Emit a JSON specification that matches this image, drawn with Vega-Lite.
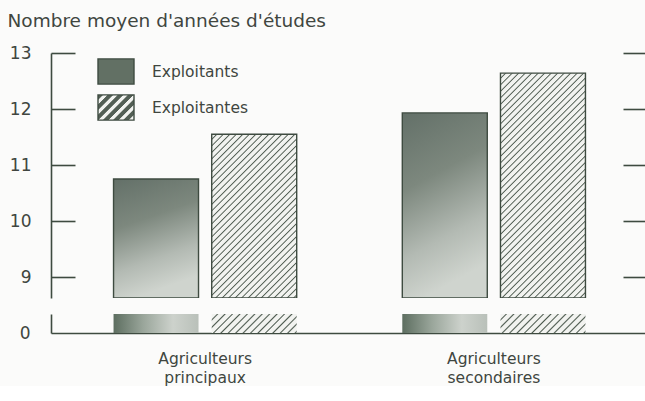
{
"$schema": "https://vega.github.io/schema/vega-lite/v6.json",
"background": "#fbfbfa",
"padding": {"left": 7, "top": 11, "right": 0, "bottom": 0},
"data": {"values": [
 {"group": "Agriculteurs principaux", "series": "Exploitants", "years": 10.75},
 {"group": "Agriculteurs principaux", "series": "Exploitantes", "years": 11.55},
 {"group": "Agriculteurs secondaires", "series": "Exploitants", "years": 11.93},
 {"group": "Agriculteurs secondaires", "series": "Exploitantes", "years": 12.64}
]},
"config": {
 "font": "DejaVu Sans",
 "view": {"stroke": null},
 "axis": {"grid": false, "domainColor": "#3e4b40", "domainWidth": 1.6, "tickColor": "#3e4b40", "tickWidth": 1.6, "labelColor": "#40463f", "labelFont": "DejaVu Sans", "titleFont": "DejaVu Sans", "titleColor": "#40463f", "titleFontWeight": "normal"},
 "legend": {"labelFont": "DejaVu Sans", "labelColor": "#40463f", "title": null, "orient": "none", "symbolType": "M-1,-0.7H1V0.7H-1Z", "symbolSize": 1296, "symbolStrokeWidth": 1.4, "labelFontSize": 15.5, "labelOffset": 17, "rowPadding": 0, "padding": 0}
},
"spacing": 16,
"bounds": "flush",
"resolve": {"legend": {"stroke": "independent"}},
"vconcat": [
 {
  "width": 597, "height": 245,
  "resolve": {"axis": {"y": "independent"}, "scale": {"stroke": "independent"}, "legend": {"stroke": "independent"}},
  "layer": [
   {
    "transform": [{"filter": "datum.series === 'Exploitants'"}],
    "mark": {"type": "bar", "strokeWidth": 1.4, "clip": true},
    "encoding": {
     "x": {"field": "group", "type": "nominal", "sort": null, "scale": {"paddingInner": 0.3657, "paddingOuter": 0.2166}, "axis": {"orient": "top", "labels": false, "ticks": false, "title": null, "domain": true}},
     "xOffset": {"field": "series", "type": "nominal", "sort": ["Exploitants", "Exploitantes"], "scale": {"domain": ["Exploitants", "Exploitantes"], "paddingInner": 0.1344, "paddingOuter": 0}},
     "y": {"field": "years", "type": "quantitative", "scale": {"domain": [8.625, 13], "zero": false, "nice": false, "clamp": true}, "axis": {"orient": "left", "values": [9, 10, 11, 12, 13], "tickSize": -24, "labelPadding": 44, "labelFontSize": 17, "title": "Nombre moyen d'années d'études", "titleAngle": 0, "titleAlign": "left", "titleBaseline": "alphabetic", "titleX": -44, "titleY": -27, "titleFontSize": 18.5}},
     "stroke": {"field": "series", "type": "nominal", "scale": {"range": ["#3e4b40"]}, "legend": {"legendX": 46, "legendY": -0.5}},
     "fill": {
      "condition": {"test": "isValid(datum.years)", "value": {"gradient": "linear", "x1": 0, "y1": 0, "x2": 0.25, "y2": 1, "stops": [
         {"offset": 0, "color": "#637068"}, {"offset": 0.4, "color": "#7d887e"}, {"offset": 0.75, "color": "#b3bab3"}, {"offset": 1, "color": "#cfd4ce"}]}},
      "value": "#627064"
     }
    }
   },
   {
    "transform": [{"filter": "datum.series === 'Exploitantes'"}],
    "mark": {"type": "bar", "strokeWidth": 1.4, "clip": true},
    "encoding": {
     "x": {"field": "group", "type": "nominal", "sort": null, "axis": null},
     "xOffset": {"field": "series", "type": "nominal", "sort": ["Exploitants", "Exploitantes"]},
     "y": {"field": "years", "type": "quantitative", "axis": null},
     "stroke": {"field": "series", "type": "nominal", "scale": {"range": ["#3e4b40"]}, "legend": {"legendX": 46, "legendY": 35.5}},
     "fill": {
      "condition": [
       {"test": "datum.group === 'Agriculteurs principaux'", "value": {"gradient": "linear", "x1": 0, "y1": 0, "x2": 0.7788, "y2": 1.5007, "stops": [
{"offset":0,"color":"#f2f3f0"},{"offset":0.0125,"color":"#f2f3f0"},{"offset":0.0167,"color":"#4b584d"},
{"offset":0.0208,"color":"#f2f3f0"},{"offset":0.0333,"color":"#f2f3f0"},{"offset":0.0375,"color":"#4b584d"},
{"offset":0.0417,"color":"#f2f3f0"},{"offset":0.0542,"color":"#f2f3f0"},{"offset":0.0583,"color":"#4b584d"},
{"offset":0.0625,"color":"#f2f3f0"},{"offset":0.075,"color":"#f2f3f0"},{"offset":0.0792,"color":"#4b584d"},
{"offset":0.0833,"color":"#f2f3f0"},{"offset":0.0958,"color":"#f2f3f0"},{"offset":0.1,"color":"#4b584d"},
{"offset":0.1042,"color":"#f2f3f0"},{"offset":0.1167,"color":"#f2f3f0"},{"offset":0.1208,"color":"#4b584d"},
{"offset":0.125,"color":"#f2f3f0"},{"offset":0.1375,"color":"#f2f3f0"},{"offset":0.1417,"color":"#4b584d"},
{"offset":0.1458,"color":"#f2f3f0"},{"offset":0.1583,"color":"#f2f3f0"},{"offset":0.1625,"color":"#4b584d"},
{"offset":0.1667,"color":"#f2f3f0"},{"offset":0.1792,"color":"#f2f3f0"},{"offset":0.1833,"color":"#4b584d"},
{"offset":0.1875,"color":"#f2f3f0"},{"offset":0.2,"color":"#f2f3f0"},{"offset":0.2042,"color":"#4b584d"},
{"offset":0.2083,"color":"#f2f3f0"},{"offset":0.2208,"color":"#f2f3f0"},{"offset":0.225,"color":"#4b584d"},
{"offset":0.2292,"color":"#f2f3f0"},{"offset":0.2417,"color":"#f2f3f0"},{"offset":0.2458,"color":"#4b584d"},
{"offset":0.25,"color":"#f2f3f0"},{"offset":0.2625,"color":"#f2f3f0"},{"offset":0.2667,"color":"#4b584d"},
{"offset":0.2708,"color":"#f2f3f0"},{"offset":0.2833,"color":"#f2f3f0"},{"offset":0.2875,"color":"#4b584d"},
{"offset":0.2917,"color":"#f2f3f0"},{"offset":0.3042,"color":"#f2f3f0"},{"offset":0.3083,"color":"#4b584d"},
{"offset":0.3125,"color":"#f2f3f0"},{"offset":0.325,"color":"#f2f3f0"},{"offset":0.3292,"color":"#4b584d"},
{"offset":0.3333,"color":"#f2f3f0"},{"offset":0.3458,"color":"#f2f3f0"},{"offset":0.35,"color":"#4b584d"},
{"offset":0.3542,"color":"#f2f3f0"},{"offset":0.3667,"color":"#f2f3f0"},{"offset":0.3708,"color":"#4b584d"},
{"offset":0.375,"color":"#f2f3f0"},{"offset":0.3875,"color":"#f2f3f0"},{"offset":0.3917,"color":"#4b584d"},
{"offset":0.3958,"color":"#f2f3f0"},{"offset":0.4083,"color":"#f2f3f0"},{"offset":0.4125,"color":"#4b584d"},
{"offset":0.4167,"color":"#f2f3f0"},{"offset":0.4292,"color":"#f2f3f0"},{"offset":0.4333,"color":"#4b584d"},
{"offset":0.4375,"color":"#f2f3f0"},{"offset":0.45,"color":"#f2f3f0"},{"offset":0.4542,"color":"#4b584d"},
{"offset":0.4583,"color":"#f2f3f0"},{"offset":0.4708,"color":"#f2f3f0"},{"offset":0.475,"color":"#4b584d"},
{"offset":0.4792,"color":"#f2f3f0"},{"offset":0.4917,"color":"#f2f3f0"},{"offset":0.4958,"color":"#4b584d"},
{"offset":0.5,"color":"#f2f3f0"},{"offset":0.5125,"color":"#f2f3f0"},{"offset":0.5167,"color":"#4b584d"},
{"offset":0.5208,"color":"#f2f3f0"},{"offset":0.5333,"color":"#f2f3f0"},{"offset":0.5375,"color":"#4b584d"},
{"offset":0.5417,"color":"#f2f3f0"},{"offset":0.5542,"color":"#f2f3f0"},{"offset":0.5583,"color":"#4b584d"},
{"offset":0.5625,"color":"#f2f3f0"},{"offset":0.575,"color":"#f2f3f0"},{"offset":0.5792,"color":"#4b584d"},
{"offset":0.5833,"color":"#f2f3f0"},{"offset":0.5958,"color":"#f2f3f0"},{"offset":0.6,"color":"#4b584d"},
{"offset":0.6042,"color":"#f2f3f0"},{"offset":0.6167,"color":"#f2f3f0"},{"offset":0.6208,"color":"#4b584d"},
{"offset":0.625,"color":"#f2f3f0"},{"offset":0.6375,"color":"#f2f3f0"},{"offset":0.6417,"color":"#4b584d"},
{"offset":0.6458,"color":"#f2f3f0"},{"offset":0.6583,"color":"#f2f3f0"},{"offset":0.6625,"color":"#4b584d"},
{"offset":0.6667,"color":"#f2f3f0"},{"offset":0.6792,"color":"#f2f3f0"},{"offset":0.6833,"color":"#4b584d"},
{"offset":0.6875,"color":"#f2f3f0"},{"offset":0.7,"color":"#f2f3f0"},{"offset":0.7042,"color":"#4b584d"},
{"offset":0.7083,"color":"#f2f3f0"},{"offset":0.7208,"color":"#f2f3f0"},{"offset":0.725,"color":"#4b584d"},
{"offset":0.7292,"color":"#f2f3f0"},{"offset":0.7417,"color":"#f2f3f0"},{"offset":0.7458,"color":"#4b584d"},
{"offset":0.75,"color":"#f2f3f0"},{"offset":0.7625,"color":"#f2f3f0"},{"offset":0.7667,"color":"#4b584d"},
{"offset":0.7708,"color":"#f2f3f0"},{"offset":0.7833,"color":"#f2f3f0"},{"offset":0.7875,"color":"#4b584d"},
{"offset":0.7917,"color":"#f2f3f0"},{"offset":0.8042,"color":"#f2f3f0"},{"offset":0.8083,"color":"#4b584d"},
{"offset":0.8125,"color":"#f2f3f0"},{"offset":0.825,"color":"#f2f3f0"},{"offset":0.8292,"color":"#4b584d"},
{"offset":0.8333,"color":"#f2f3f0"},{"offset":0.8458,"color":"#f2f3f0"},{"offset":0.85,"color":"#4b584d"},
{"offset":0.8542,"color":"#f2f3f0"},{"offset":0.8667,"color":"#f2f3f0"},{"offset":0.8708,"color":"#4b584d"},
{"offset":0.875,"color":"#f2f3f0"},{"offset":0.8875,"color":"#f2f3f0"},{"offset":0.8917,"color":"#4b584d"},
{"offset":0.8958,"color":"#f2f3f0"},{"offset":0.9083,"color":"#f2f3f0"},{"offset":0.9125,"color":"#4b584d"},
{"offset":0.9167,"color":"#f2f3f0"},{"offset":0.9292,"color":"#f2f3f0"},{"offset":0.9333,"color":"#4b584d"},
{"offset":0.9375,"color":"#f2f3f0"},{"offset":0.95,"color":"#f2f3f0"},{"offset":0.9542,"color":"#4b584d"},
{"offset":0.9583,"color":"#f2f3f0"},{"offset":0.9708,"color":"#f2f3f0"},{"offset":0.975,"color":"#4b584d"},
{"offset":0.9792,"color":"#f2f3f0"},{"offset":0.9917,"color":"#f2f3f0"},{"offset":0.9958,"color":"#4b584d"},
{"offset":1,"color":"#f2f3f0"}]}},
       {"test": "isValid(datum.years)", "value": {"gradient": "linear", "x1": 0, "y1": 0, "x2": 0.4592, "y2": 1.2143, "stops": [
{"offset":0,"color":"#f2f3f0"},{"offset":0.0125,"color":"#f2f3f0"},{"offset":0.0167,"color":"#4b584d"},
{"offset":0.0208,"color":"#f2f3f0"},{"offset":0.0333,"color":"#f2f3f0"},{"offset":0.0375,"color":"#4b584d"},
{"offset":0.0417,"color":"#f2f3f0"},{"offset":0.0542,"color":"#f2f3f0"},{"offset":0.0583,"color":"#4b584d"},
{"offset":0.0625,"color":"#f2f3f0"},{"offset":0.075,"color":"#f2f3f0"},{"offset":0.0792,"color":"#4b584d"},
{"offset":0.0833,"color":"#f2f3f0"},{"offset":0.0958,"color":"#f2f3f0"},{"offset":0.1,"color":"#4b584d"},
{"offset":0.1042,"color":"#f2f3f0"},{"offset":0.1167,"color":"#f2f3f0"},{"offset":0.1208,"color":"#4b584d"},
{"offset":0.125,"color":"#f2f3f0"},{"offset":0.1375,"color":"#f2f3f0"},{"offset":0.1417,"color":"#4b584d"},
{"offset":0.1458,"color":"#f2f3f0"},{"offset":0.1583,"color":"#f2f3f0"},{"offset":0.1625,"color":"#4b584d"},
{"offset":0.1667,"color":"#f2f3f0"},{"offset":0.1792,"color":"#f2f3f0"},{"offset":0.1833,"color":"#4b584d"},
{"offset":0.1875,"color":"#f2f3f0"},{"offset":0.2,"color":"#f2f3f0"},{"offset":0.2042,"color":"#4b584d"},
{"offset":0.2083,"color":"#f2f3f0"},{"offset":0.2208,"color":"#f2f3f0"},{"offset":0.225,"color":"#4b584d"},
{"offset":0.2292,"color":"#f2f3f0"},{"offset":0.2417,"color":"#f2f3f0"},{"offset":0.2458,"color":"#4b584d"},
{"offset":0.25,"color":"#f2f3f0"},{"offset":0.2625,"color":"#f2f3f0"},{"offset":0.2667,"color":"#4b584d"},
{"offset":0.2708,"color":"#f2f3f0"},{"offset":0.2833,"color":"#f2f3f0"},{"offset":0.2875,"color":"#4b584d"},
{"offset":0.2917,"color":"#f2f3f0"},{"offset":0.3042,"color":"#f2f3f0"},{"offset":0.3083,"color":"#4b584d"},
{"offset":0.3125,"color":"#f2f3f0"},{"offset":0.325,"color":"#f2f3f0"},{"offset":0.3292,"color":"#4b584d"},
{"offset":0.3333,"color":"#f2f3f0"},{"offset":0.3458,"color":"#f2f3f0"},{"offset":0.35,"color":"#4b584d"},
{"offset":0.3542,"color":"#f2f3f0"},{"offset":0.3667,"color":"#f2f3f0"},{"offset":0.3708,"color":"#4b584d"},
{"offset":0.375,"color":"#f2f3f0"},{"offset":0.3875,"color":"#f2f3f0"},{"offset":0.3917,"color":"#4b584d"},
{"offset":0.3958,"color":"#f2f3f0"},{"offset":0.4083,"color":"#f2f3f0"},{"offset":0.4125,"color":"#4b584d"},
{"offset":0.4167,"color":"#f2f3f0"},{"offset":0.4292,"color":"#f2f3f0"},{"offset":0.4333,"color":"#4b584d"},
{"offset":0.4375,"color":"#f2f3f0"},{"offset":0.45,"color":"#f2f3f0"},{"offset":0.4542,"color":"#4b584d"},
{"offset":0.4583,"color":"#f2f3f0"},{"offset":0.4708,"color":"#f2f3f0"},{"offset":0.475,"color":"#4b584d"},
{"offset":0.4792,"color":"#f2f3f0"},{"offset":0.4917,"color":"#f2f3f0"},{"offset":0.4958,"color":"#4b584d"},
{"offset":0.5,"color":"#f2f3f0"},{"offset":0.5125,"color":"#f2f3f0"},{"offset":0.5167,"color":"#4b584d"},
{"offset":0.5208,"color":"#f2f3f0"},{"offset":0.5333,"color":"#f2f3f0"},{"offset":0.5375,"color":"#4b584d"},
{"offset":0.5417,"color":"#f2f3f0"},{"offset":0.5542,"color":"#f2f3f0"},{"offset":0.5583,"color":"#4b584d"},
{"offset":0.5625,"color":"#f2f3f0"},{"offset":0.575,"color":"#f2f3f0"},{"offset":0.5792,"color":"#4b584d"},
{"offset":0.5833,"color":"#f2f3f0"},{"offset":0.5958,"color":"#f2f3f0"},{"offset":0.6,"color":"#4b584d"},
{"offset":0.6042,"color":"#f2f3f0"},{"offset":0.6167,"color":"#f2f3f0"},{"offset":0.6208,"color":"#4b584d"},
{"offset":0.625,"color":"#f2f3f0"},{"offset":0.6375,"color":"#f2f3f0"},{"offset":0.6417,"color":"#4b584d"},
{"offset":0.6458,"color":"#f2f3f0"},{"offset":0.6583,"color":"#f2f3f0"},{"offset":0.6625,"color":"#4b584d"},
{"offset":0.6667,"color":"#f2f3f0"},{"offset":0.6792,"color":"#f2f3f0"},{"offset":0.6833,"color":"#4b584d"},
{"offset":0.6875,"color":"#f2f3f0"},{"offset":0.7,"color":"#f2f3f0"},{"offset":0.7042,"color":"#4b584d"},
{"offset":0.7083,"color":"#f2f3f0"},{"offset":0.7208,"color":"#f2f3f0"},{"offset":0.725,"color":"#4b584d"},
{"offset":0.7292,"color":"#f2f3f0"},{"offset":0.7417,"color":"#f2f3f0"},{"offset":0.7458,"color":"#4b584d"},
{"offset":0.75,"color":"#f2f3f0"},{"offset":0.7625,"color":"#f2f3f0"},{"offset":0.7667,"color":"#4b584d"},
{"offset":0.7708,"color":"#f2f3f0"},{"offset":0.7833,"color":"#f2f3f0"},{"offset":0.7875,"color":"#4b584d"},
{"offset":0.7917,"color":"#f2f3f0"},{"offset":0.8042,"color":"#f2f3f0"},{"offset":0.8083,"color":"#4b584d"},
{"offset":0.8125,"color":"#f2f3f0"},{"offset":0.825,"color":"#f2f3f0"},{"offset":0.8292,"color":"#4b584d"},
{"offset":0.8333,"color":"#f2f3f0"},{"offset":0.8458,"color":"#f2f3f0"},{"offset":0.85,"color":"#4b584d"},
{"offset":0.8542,"color":"#f2f3f0"},{"offset":0.8667,"color":"#f2f3f0"},{"offset":0.8708,"color":"#4b584d"},
{"offset":0.875,"color":"#f2f3f0"},{"offset":0.8875,"color":"#f2f3f0"},{"offset":0.8917,"color":"#4b584d"},
{"offset":0.8958,"color":"#f2f3f0"},{"offset":0.9083,"color":"#f2f3f0"},{"offset":0.9125,"color":"#4b584d"},
{"offset":0.9167,"color":"#f2f3f0"},{"offset":0.9292,"color":"#f2f3f0"},{"offset":0.9333,"color":"#4b584d"},
{"offset":0.9375,"color":"#f2f3f0"},{"offset":0.95,"color":"#f2f3f0"},{"offset":0.9542,"color":"#4b584d"},
{"offset":0.9583,"color":"#f2f3f0"},{"offset":0.9708,"color":"#f2f3f0"},{"offset":0.975,"color":"#4b584d"},
{"offset":0.9792,"color":"#f2f3f0"},{"offset":0.9917,"color":"#f2f3f0"},{"offset":0.9958,"color":"#4b584d"},
{"offset":1,"color":"#f2f3f0"}]}}
      ],
      "value": {"gradient": "linear", "x1": 0, "y1": 0, "x2": 1.137, "y2": 0.796, "stops": [
        {"offset": 0, "color": "#535f55"}, {"offset": 0.075, "color": "#535f55"}, {"offset": 0.0917, "color": "#f2f3f0"}, {"offset": 0.15, "color": "#f2f3f0"},
        {"offset": 0.1667, "color": "#535f55"}, {"offset": 0.2417, "color": "#535f55"}, {"offset": 0.2583, "color": "#f2f3f0"}, {"offset": 0.3167, "color": "#f2f3f0"},
        {"offset": 0.3333, "color": "#535f55"}, {"offset": 0.4083, "color": "#535f55"}, {"offset": 0.425, "color": "#f2f3f0"}, {"offset": 0.4833, "color": "#f2f3f0"},
        {"offset": 0.5, "color": "#535f55"}, {"offset": 0.575, "color": "#535f55"}, {"offset": 0.5917, "color": "#f2f3f0"}, {"offset": 0.65, "color": "#f2f3f0"},
        {"offset": 0.6667, "color": "#535f55"}, {"offset": 0.7417, "color": "#535f55"}, {"offset": 0.7583, "color": "#f2f3f0"}, {"offset": 0.8167, "color": "#f2f3f0"},
        {"offset": 0.8333, "color": "#535f55"}, {"offset": 0.9083, "color": "#535f55"}, {"offset": 0.925, "color": "#f2f3f0"}, {"offset": 0.9833, "color": "#f2f3f0"},
        {"offset": 1, "color": "#535f55"}]}
     }
    }
   },
   {
    "mark": {"type": "bar", "opacity": 0},
    "encoding": {
     "x": {"field": "group", "type": "nominal", "sort": null, "axis": null},
     "xOffset": {"field": "series", "type": "nominal", "sort": ["Exploitants", "Exploitantes"]},
     "y": {"field": "years", "type": "quantitative", "axis": {"orient": "right", "values": [9, 10, 11, 12, 13], "tickSize": -25, "labels": false, "title": null}}
    }
   }
  ]
 },
 {
  "width": 597, "height": 19,
  "mark": {"type": "bar", "clip": true},
  "encoding": {
   "x": {"field": "group", "type": "nominal", "sort": null, "scale": {"paddingInner": 0.3657, "paddingOuter": 0.2166}, "axis": {"orient": "bottom", "labelExpr": "split(datum.label, ' ')", "labelFontSize": 15.5, "labelLineHeight": 19, "labelPadding": 18, "labelAngle": 0, "ticks": false, "title": null}},
   "xOffset": {"field": "series", "type": "nominal", "sort": ["Exploitants", "Exploitantes"], "scale": {"paddingInner": 0.1344, "paddingOuter": 0}},
   "y": {"field": "years", "type": "quantitative", "scale": {"domain": [0, 0.35], "nice": false, "clamp": true}, "axis": {"values": [0], "format": "d", "ticks": false, "labelPadding": 21, "labelFontSize": 17, "title": null}},
   "fill": {
    "condition": {"test": "datum.series === 'Exploitants'", "value": {"gradient": "linear", "x1": 0, "y1": 0, "x2": 1, "y2": 0, "stops": [
      {"offset": 0, "color": "#5d6e60"}, {"offset": 0.35, "color": "#9aa69b"}, {"offset": 0.7, "color": "#cdd2cc"}, {"offset": 1, "color": "#b9c0b9"}]}},
    "value": {"gradient": "linear", "x1": 0, "y1": 0, "x2": 1.1653, "y2": 0.2605, "stops": [
{"offset":0,"color":"#f2f3f0"},{"offset":0.0429,"color":"#f2f3f0"},{"offset":0.0571,"color":"#4b584d"},
{"offset":0.0714,"color":"#f2f3f0"},{"offset":0.1143,"color":"#f2f3f0"},{"offset":0.1286,"color":"#4b584d"},
{"offset":0.1429,"color":"#f2f3f0"},{"offset":0.1857,"color":"#f2f3f0"},{"offset":0.2,"color":"#4b584d"},
{"offset":0.2143,"color":"#f2f3f0"},{"offset":0.2571,"color":"#f2f3f0"},{"offset":0.2714,"color":"#4b584d"},
{"offset":0.2857,"color":"#f2f3f0"},{"offset":0.3286,"color":"#f2f3f0"},{"offset":0.3429,"color":"#4b584d"},
{"offset":0.3571,"color":"#f2f3f0"},{"offset":0.4,"color":"#f2f3f0"},{"offset":0.4143,"color":"#4b584d"},
{"offset":0.4286,"color":"#f2f3f0"},{"offset":0.4714,"color":"#f2f3f0"},{"offset":0.4857,"color":"#4b584d"},
{"offset":0.5,"color":"#f2f3f0"},{"offset":0.5429,"color":"#f2f3f0"},{"offset":0.5571,"color":"#4b584d"},
{"offset":0.5714,"color":"#f2f3f0"},{"offset":0.6143,"color":"#f2f3f0"},{"offset":0.6286,"color":"#4b584d"},
{"offset":0.6429,"color":"#f2f3f0"},{"offset":0.6857,"color":"#f2f3f0"},{"offset":0.7,"color":"#4b584d"},
{"offset":0.7143,"color":"#f2f3f0"},{"offset":0.7571,"color":"#f2f3f0"},{"offset":0.7714,"color":"#4b584d"},
{"offset":0.7857,"color":"#f2f3f0"},{"offset":0.8286,"color":"#f2f3f0"},{"offset":0.8429,"color":"#4b584d"},
{"offset":0.8571,"color":"#f2f3f0"},{"offset":0.9,"color":"#f2f3f0"},{"offset":0.9143,"color":"#4b584d"},
{"offset":0.9286,"color":"#f2f3f0"},{"offset":0.9714,"color":"#f2f3f0"},{"offset":0.9857,"color":"#4b584d"},
{"offset":1,"color":"#f2f3f0"}]}
   }
  }
 }
]
}
